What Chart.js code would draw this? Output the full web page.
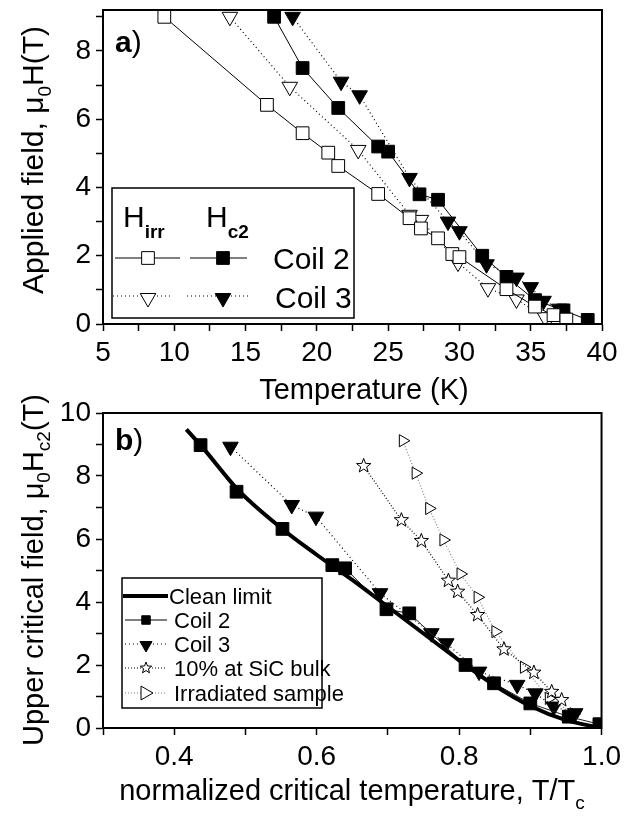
<!DOCTYPE html>
<html>
<head>
<meta charset="utf-8">
<script src="https://cdn.jsdelivr.net/npm/chart.js@4/dist/chart.umd.min.js"></script>
<style>
  body { margin: 0; background: #fff; width: 626px; height: 819px; overflow: hidden; position: relative; }
  .panel { position: absolute; left: 0; width: 626px; }
</style>
</head>
<body>
<div class="panel" style="top:-20px;height:425px"><canvas id="chartA"></canvas></div>
<div class="panel" style="top:370px;height:449px"><canvas id="chartB"></canvas></div>
<script>
// ---- panel a) : field vs temperature ----
const hirrCoil2T = [9.3, 16.5, 19.0, 20.8, 21.5, 24.3, 26.5, 27.3, 28.5, 29.5, 30.0, 33.3, 35.3, 36.6, 37.5];
const hirrCoil2H = [9.0, 6.42, 5.59, 5.02, 4.63, 3.81, 3.10, 2.80, 2.51, 2.05, 1.96, 1.02, 0.51, 0.26, 0.13];
const hc2Coil2T = [17.0, 19.0, 21.5, 24.3, 25.0, 27.2, 28.5, 31.6, 33.3, 35.3, 37.3, 39.0];
const hc2Coil2H = [9.0, 7.5, 6.33, 5.2, 5.05, 3.8, 3.64, 2.0, 1.38, 0.7, 0.4, 0.12];
const hirrCoil3T = [13.9, 18.1, 22.9, 26.5, 27.3, 29.9, 32.0, 34.0, 36.0, 36.8];
const hirrCoil3H = [9.0, 6.95, 5.1, 3.2, 3.05, 1.8, 1.05, 0.72, 0.2, 0.05];
const hc2Coil3T = [18.3, 21.7, 23.0, 26.5, 29.2, 30.0, 31.9, 34.0, 35.0, 35.9, 37.0];
const hc2Coil3H = [9.0, 7.1, 6.7, 4.28, 3.0, 2.72, 1.75, 1.36, 1.08, 0.68, 0.45];

// ---- panel b) : Hc2 vs T/Tc ----
const cleanT = [0.417, 0.44, 0.49, 0.55, 0.60, 0.65, 0.70, 0.75, 0.80, 0.85, 0.90, 0.95, 1.0];
const cleanH = [9.48, 8.90, 7.55, 6.35, 5.50, 4.70, 3.85, 3.00, 2.15, 1.35, 0.70, 0.25, 0.0];
const coil2T = [0.437, 0.4875, 0.552, 0.622, 0.64, 0.698, 0.730, 0.809, 0.849, 0.90, 0.954, 0.997];
const coil2H = [8.98, 7.50, 6.32, 5.17, 5.07, 3.77, 3.64, 2.0, 1.42, 0.78, 0.36, 0.12];
const coil3T = [0.479, 0.565, 0.599, 0.689, 0.761, 0.782, 0.828, 0.8815, 0.907, 0.933, 0.963];
const coil3H = [8.93, 7.08, 6.71, 4.28, 3.01, 2.69, 1.79, 1.37, 1.10, 0.68, 0.47];
const sicT = [0.666, 0.719, 0.747, 0.785, 0.798, 0.826, 0.863, 0.905, 0.930, 0.944];
const sicH = [8.32, 6.60, 5.94, 4.68, 4.33, 3.59, 2.50, 1.76, 1.15, 0.89];
const irrT = [0.721, 0.739, 0.758, 0.778, 0.802, 0.826, 0.851, 0.891, 0.926, 0.961];
const irrH = [9.12, 8.09, 6.97, 5.97, 4.89, 4.15, 3.06, 1.93, 0.94, 0.45];

const FAM = '"Liberation Sans", Arial, sans-serif';
Chart.defaults.font.family = FAM;
Chart.defaults.color = '#000';

const pts = (xs, ys) => xs.map((x, i) => ({ x: x, y: ys[i] }));

function markPath(ctx, type, x, y, r) {
  ctx.beginPath();
  if (type === 'sq') {
    const h = r * Math.SQRT1_2;
    ctx.rect(x - h, y - h, 2 * h, 2 * h);
  } else if (type === 'tri') {
    ctx.moveTo(x, y + r);
    ctx.lineTo(x - r * 0.866, y - r / 2);
    ctx.lineTo(x + r * 0.866, y - r / 2);
    ctx.closePath();
  } else if (type === 'rtri') {
    ctx.moveTo(x + r, y);
    ctx.lineTo(x - r / 2, y - r * 0.866);
    ctx.lineTo(x - r / 2, y + r * 0.866);
    ctx.closePath();
  } else if (type === 'star') {
    for (let i = 0; i < 10; i++) {
      const a = -Math.PI / 2 + i * Math.PI / 5;
      const rr = i % 2 ? r * 0.42 : r;
      const px = x + rr * Math.cos(a), py = y + rr * Math.sin(a);
      if (i === 0) ctx.moveTo(px, py); else ctx.lineTo(px, py);
    }
    ctx.closePath();
  }
}

function mark(ctx, type, x, y, r, fill) {
  markPath(ctx, type, x, y, r);
  ctx.fillStyle = fill;
  ctx.fill();
  ctx.strokeStyle = '#000';
  ctx.lineWidth = 1;
  ctx.setLineDash([]);
  ctx.stroke();
}

function seg(ctx, x1, x2, y, width, color, dash) {
  ctx.beginPath();
  ctx.moveTo(x1, y); ctx.lineTo(x2, y);
  ctx.lineWidth = width; ctx.strokeStyle = color;
  ctx.setLineDash(dash || []);
  ctx.stroke();
  ctx.setLineDash([]);
}

// text with subscripts; parts = [[text, kind]], kind n|s|b|sb
function rich(ctx, parts, x, y, opt) {
  opt = opt || {};
  const size = opt.size || 29;
  const sub = Math.round(size * 0.64);
  const drop = opt.drop || Math.round(size * 0.25);
  const fonts = { n: size + 'px ' + FAM, b: 'bold ' + size + 'px ' + FAM, s: sub + 'px ' + FAM, sb: 'bold ' + sub + 'px ' + FAM };
  let w = 0;
  parts.forEach(p => { ctx.font = fonts[p[1]]; w += ctx.measureText(p[0]).width; });
  ctx.save();
  ctx.translate(x, y);
  if (opt.rot) ctx.rotate(opt.rot);
  let cx = opt.align === 'left' ? 0 : -w / 2;
  ctx.textAlign = 'left';
  ctx.textBaseline = 'alphabetic';
  ctx.fillStyle = '#000';
  parts.forEach(p => {
    ctx.font = fonts[p[1]];
    ctx.fillText(p[0], cx, p[1] === 's' || p[1] === 'sb' ? drop : 0);
    cx += ctx.measureText(p[0]).width;
  });
  ctx.restore();
}

function frame(chart) {
  const a = chart.chartArea, ctx = chart.ctx;
  ctx.save();
  ctx.strokeStyle = '#000';
  ctx.lineWidth = 2;
  ctx.strokeRect(a.left, a.top, a.right - a.left, a.bottom - a.top);
  ctx.restore();
}

function axisOpts(min, max, step, labelFn, fit) {
  return {
    type: 'linear', min: min, max: max,
    afterFit: fit,
    ticks: { stepSize: step, autoSkip: false, maxRotation: 0, includeBounds: false, padding: 5,
             font: { size: 28 }, color: '#000', callback: labelFn },
    grid: { drawOnChartArea: false, drawTicks: true, tickLength: 7, tickWidth: 1.5, tickColor: '#000' },
    border: { display: true, color: '#000', width: 2 }
  };
}

const tri = { pointStyle: 'triangle', rotation: 180 };

// ---------- chart a ----------
const DYA = -20;
new Chart(document.getElementById('chartA'), {
  type: 'scatter',
  data: {
    datasets: [
      { label: 'Hirr Coil 2', data: pts(hirrCoil2T, hirrCoil2H), showLine: true, borderColor: '#000', borderWidth: 1,
        pointStyle: 'rect', pointRadius: 9, pointBackgroundColor: '#fff', pointBorderColor: '#000', pointBorderWidth: 1 },
      { label: 'Hc2 Coil 2', data: pts(hc2Coil2T, hc2Coil2H), showLine: true, borderColor: '#000', borderWidth: 1,
        pointStyle: 'rect', pointRadius: 9, pointBackgroundColor: '#000', pointBorderColor: '#000', pointBorderWidth: 1 },
      { label: 'Hirr Coil 3', data: pts(hirrCoil3T, hirrCoil3H), showLine: true, borderColor: '#000', borderWidth: 1.2, borderDash: [1, 3],
        ...tri, pointRadius: 9, pointBackgroundColor: '#fff', pointBorderColor: '#000', pointBorderWidth: 1 },
      { label: 'Hc2 Coil 3', data: pts(hc2Coil3T, hc2Coil3H), showLine: true, borderColor: '#000', borderWidth: 1.2, borderDash: [1, 3],
        ...tri, pointRadius: 9, pointBackgroundColor: '#000', pointBorderColor: '#000', pointBorderWidth: 1 }
    ]
  },
  options: {
    responsive: true, maintainAspectRatio: false, animation: false, devicePixelRatio: 1, events: [],
    layout: { padding: { top: 30, right: 24, left: 0, bottom: 0 } },
    plugins: { legend: { display: false }, tooltip: { enabled: false } },
    scales: {
      x: axisOpts(5, 40, 2.5, v => (v % 5 === 0 ? String(v) : ''), s => { s.height = 81; }),
      y: axisOpts(0, 9.2, 1, v => (v % 2 === 0 ? String(v) : ''), s => { s.width = 103; })
    }
  },
  plugins: [{
    id: 'decoA',
    afterDraw(chart) {
      const ctx = chart.ctx;
      const Y = y => y - DYA;
      frame(chart);
      ctx.save();
      // panel tag
      rich(ctx, [['a', 'b'], [')', 'n']], 115, Y(52), { align: 'left', size: 30 });
      // axis titles
      rich(ctx, [['Temperature (K)', 'n']], 364, Y(399));
      rich(ctx, [['Applied field, \u03bc', 'n'], ['0', 's'], ['H(T)', 'n']], 43, Y(160), { rot: -Math.PI / 2, size: 30 });
      // legend box
      ctx.lineWidth = 1.5; ctx.strokeStyle = '#000';
      ctx.strokeRect(112, Y(188), 242, 130);
      rich(ctx, [['H', 'n'], ['irr', 'sb']], 123, Y(227), { align: 'left', size: 30, drop: 11 });
      rich(ctx, [['H', 'n'], ['c2', 'sb']], 206, Y(227), { align: 'left', size: 30, drop: 11 });
      seg(ctx, 115, 180, Y(258), 1, '#000');
      mark(ctx, 'sq', 148, Y(258), 9, '#fff');
      seg(ctx, 190, 247, Y(258), 1, '#000');
      mark(ctx, 'sq', 223, Y(258), 9, '#000');
      rich(ctx, [['Coil 2', 'n']], 273, Y(269), { align: 'left', size: 30 });
      seg(ctx, 113, 170, Y(296), 1, '#000', [1, 3]);
      mark(ctx, 'tri', 148, Y(298), 9, '#fff');
      seg(ctx, 187, 250, Y(296), 1, '#000', [1, 3]);
      mark(ctx, 'tri', 223, Y(298), 9, '#000');
      rich(ctx, [['Coil 3', 'n']], 275, Y(308), { align: 'left', size: 30 });
      ctx.restore();
    }
  }]
});

// ---------- chart b ----------
const DYB = 370;
const STAR_SET = 3;
new Chart(document.getElementById('chartB'), {
  type: 'scatter',
  data: {
    datasets: [
      { label: 'Clean limit', data: pts(cleanT, cleanH), showLine: true, borderColor: '#000', borderWidth: 4,
        cubicInterpolationMode: 'monotone', pointRadius: 0 },
      { label: 'Coil 2', data: pts(coil2T, coil2H), showLine: true, borderColor: '#222', borderWidth: 1,
        pointStyle: 'rect', pointRadius: 9, pointBackgroundColor: '#000', pointBorderColor: '#000', pointBorderWidth: 1 },
      { label: 'Coil 3', data: pts(coil3T, coil3H), showLine: true, borderColor: '#000', borderWidth: 1.2, borderDash: [1, 3],
        ...tri, pointRadius: 9, pointBackgroundColor: '#000', pointBorderColor: '#000', pointBorderWidth: 1 },
      // star markers are stroked at the element positions by the plugin below
      { label: '10% at SiC bulk', data: pts(sicT, sicH), showLine: true, borderColor: '#000', borderWidth: 1.2, borderDash: [1, 2],
        pointRadius: 0 },
      { label: 'Irradiated sample', data: pts(irrT, irrH), showLine: true, borderColor: '#888', borderWidth: 1.2, borderDash: [1, 2],
        pointStyle: 'triangle', rotation: 90, pointRadius: 7, pointBackgroundColor: '#fff', pointBorderColor: '#000', pointBorderWidth: 1 }
    ]
  },
  options: {
    responsive: true, maintainAspectRatio: false, animation: false, devicePixelRatio: 1, events: [],
    layout: { padding: { top: 43, right: 24, left: 0, bottom: 0 } },
    plugins: { legend: { display: false }, tooltip: { enabled: false } },
    scales: {
      x: axisOpts(0.3, 1.0, 0.1, v => {
        const k = Math.round(v * 10);
        return k % 2 === 0 ? (k / 10).toFixed(1) : '';
      }, s => { s.height = 91; }),
      y: axisOpts(0, 10, 1, v => (v % 2 === 0 ? String(v) : ''), s => { s.width = 103; })
    }
  },
  plugins: [{
    id: 'decoB',
    afterDatasetsDraw(chart) {
      const ctx = chart.ctx;
      ctx.save();
      chart.getDatasetMeta(STAR_SET).data.forEach(el => mark(ctx, 'star', el.x, el.y, 7.5, '#fff'));
      ctx.restore();
    },
    afterDraw(chart) {
      const ctx = chart.ctx;
      const Y = y => y - DYB;
      frame(chart);
      ctx.save();
      rich(ctx, [['b', 'b'], [')', 'n']], 115, Y(450), { align: 'left', size: 30 });
      rich(ctx, [['normalized critical temperature, T/T', 'n'], ['c', 's']], 352, Y(800), { drop: 9 });
      rich(ctx, [['Upper critical field, \u03bc', 'n'], ['0', 's'], ['H', 'n'], ['c2', 's'], ['(T)', 'n']], 43, Y(570), { rot: -Math.PI / 2 });
      // legend
      ctx.lineWidth = 1.5; ctx.strokeStyle = '#000';
      ctx.strokeRect(122, Y(578), 200, 130);
      const rows = [596, 620, 644, 668, 693];
      seg(ctx, 123, 168, Y(rows[0]), 4, '#000');
      rich(ctx, [['Clean limit', 'n']], 169, Y(rows[0] + 8), { align: 'left', size: 22 });
      seg(ctx, 125, 167, Y(rows[1]), 1.5, '#555');
      mark(ctx, 'sq', 146, Y(rows[1]), 6, '#000');
      rich(ctx, [['Coil 2', 'n']], 174, Y(rows[1] + 8), { align: 'left', size: 22 });
      seg(ctx, 125, 167, Y(rows[2]), 1, '#000', [1, 3]);
      mark(ctx, 'tri', 146, Y(rows[2] + 1), 7, '#000');
      rich(ctx, [['Coil 3', 'n']], 174, Y(rows[2] + 8), { align: 'left', size: 22 });
      seg(ctx, 125, 167, Y(rows[3]), 1, '#000', [1, 2]);
      mark(ctx, 'star', 146, Y(rows[3]), 6, '#fff');
      rich(ctx, [['10% at SiC bulk', 'n']], 174, Y(rows[3] + 8), { align: 'left', size: 22 });
      seg(ctx, 125, 167, Y(rows[4]), 1, '#777', [1, 2]);
      mark(ctx, 'rtri', 145, Y(rows[4]), 8, '#fff');
      rich(ctx, [['Irradiated sample', 'n']], 174, Y(rows[4] + 8), { align: 'left', size: 22 });
      ctx.restore();
    }
  }]
});
</script>
</body>
</html>
